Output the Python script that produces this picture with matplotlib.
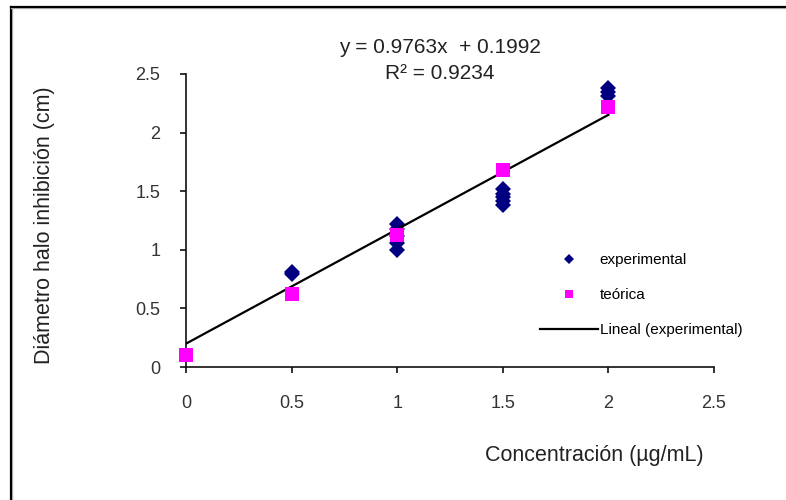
import numpy as np
import matplotlib
matplotlib.use('Agg')
import matplotlib.pyplot as plt
from matplotlib.lines import Line2D

plt.rcParams['font.family'] = ['Liberation Sans', 'DejaVu Sans']

# measured inhibition halo diameters (cm) per concentration (ug/mL)
exp_x = [0.5, 0.5, 1, 1, 1, 1, 1, 1.5, 1.5, 1.5, 1.5, 1.5, 2, 2, 2]
exp_y = [0.79, 0.81, 1.22, 1.18, 1.12, 1.06, 1.0, 1.52, 1.48, 1.45, 1.42, 1.38, 2.38, 2.35, 2.31]

# theoretical values
teo_x = [0, 0.5, 1, 1.5, 2]
teo_y = [0.10, 0.62, 1.13, 1.68, 2.22]

# linear fit reported for the experimental series
slope, intercept, r2 = 0.9763, 0.1992, 0.9234
fit_x = np.array([0, 2])

fig = plt.figure(figsize=(7.86, 5), dpi=100)
ax = fig.add_axes([186/786, 1-367/500, (714-186)/786, (367-74)/500])

ax.plot(fit_x, slope*fit_x + intercept, color='black', lw=1.6, label='Lineal (experimental)', zorder=3)
ax.plot(exp_x, exp_y, 'D', color='#000080', ms=7.8, mew=0, label='experimental', zorder=2)
ax.plot(teo_x, teo_y, 's', color='#ff00ff', ms=10.5, mew=0, label='teórica', zorder=4, clip_on=False)

ticks = [0, 0.5, 1, 1.5, 2, 2.5]
tick_labels = ['0', '0.5', '1', '1.5', '2', '2.5']
ax.set_xlim(0, 2.5)
ax.set_ylim(0, 2.5)
ax.set_xticks(ticks)
ax.set_yticks(ticks)
ax.set_xticklabels(tick_labels)
ax.set_yticklabels(tick_labels)
ax.spines['top'].set_visible(False)
ax.spines['right'].set_visible(False)
for s in ('left', 'bottom'):
    ax.spines[s].set_linewidth(1.2)
    ax.spines[s].set_color('#111111')
ax.tick_params(axis='x', direction='out', length=4.5, width=1.2, pad=16, labelsize=13, colors='#111111', labelcolor='#333333')
ax.tick_params(axis='y', direction='out', length=4.5, width=1.2, pad=14, labelsize=13, colors='#111111', labelcolor='#333333')

ax.text(0.481, 1.089, 'y = 0.9763x  + 0.1992', transform=ax.transAxes, ha='center', va='center', fontsize=15, color='#222222')
ax.text(0.481, 1.003, 'R² = 0.9234', transform=ax.transAxes, ha='center', va='center', fontsize=15, color='#222222')

fig.text(594/786, 1-455/500, 'Concentración (µg/mL)', ha='center', va='center', fontsize=15.5, color='#222222')
fig.text(45/786, 1-225/500, 'Diámetro halo inhibición (cm)', ha='center', va='center', rotation=90, fontsize=15.5, color='#222222')

handles, labels = ax.get_legend_handles_labels()
order = [1, 2, 0]
fig.legend([handles[i] for i in order], [labels[i] for i in order],
           loc='upper left', bbox_to_anchor=(540/786, 1-253/500), frameon=False,
           fontsize=11, markerscale=0.6, handlelength=3.8, handletextpad=0.1,
           labelspacing=1.38, borderpad=0, borderaxespad=0)

# outer frame (left and top edges)
fig.add_artist(Line2D([12/786, 12/786], [0, 1-6.5/500], color='#bbbbbb', lw=1.0, transform=fig.transFigure))
fig.add_artist(Line2D([11.3/786, 11.3/786], [0, 1-6.5/500], color='black', lw=1.6, transform=fig.transFigure))
fig.add_artist(Line2D([11/786, 1], [1-7.8/500, 1-7.8/500], color='#bbbbbb', lw=1.0, transform=fig.transFigure))
fig.add_artist(Line2D([11/786, 1], [1-6.7/500, 1-6.7/500], color='black', lw=1.6, transform=fig.transFigure))

fig.savefig('out.png', dpi=100)
